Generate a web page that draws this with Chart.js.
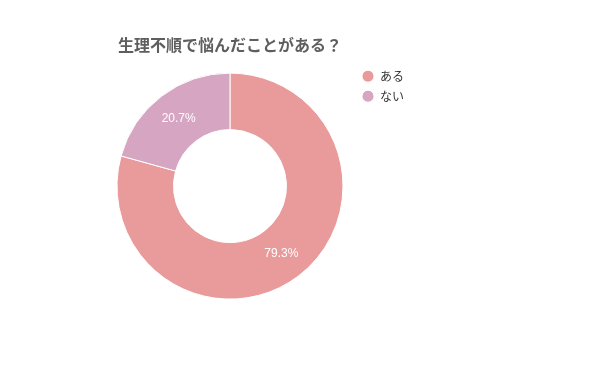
<!DOCTYPE html>
<html lang="ja">
<head>
<meta charset="utf-8">
<title>生理不順で悩んだことがある？</title>
<script src="https://cdn.jsdelivr.net/npm/chart.js@4.4.1/dist/chart.umd.min.js"></script>
<style>
  html, body { margin: 0; padding: 0; background: #fff; }
  .chart-box { position: relative; width: 600px; height: 371px; }
</style>
</head>
<body>
<div class="chart-box">
  <canvas id="cycleChart"></canvas>
</div>
<script>
Chart.defaults.font.family = "'Noto Sans CJK JP', 'Noto Sans', sans-serif";
Chart.defaults.font.size = 12;
Chart.defaults.color = "#333333";

const chartTitle = "生理不順で悩んだことがある？";
const answers = ["ある", "ない"];
const shares = [79.3, 20.7];
const sliceColors = ["#e99b9b", "#d6a5c2"];

// white percentage text in the middle of each ring segment
const sliceLabels = {
    id: "sliceLabels",
    afterDatasetsDraw(chart) {
        const ctx = chart.ctx;
        const meta = chart.getDatasetMeta(0);
        ctx.save();
        ctx.font = "12px 'Liberation Sans', Arial, sans-serif";
        ctx.fillStyle = "#ffffff";
        ctx.textAlign = "center";
        ctx.textBaseline = "middle";
        meta.data.forEach((arc, i) => {
            const pos = arc.tooltipPosition();
            ctx.fillText(shares[i] + "%", pos.x, pos.y);
        });
        ctx.restore();
    }
};

const ctx = document.getElementById("cycleChart").getContext("2d");
new Chart(ctx, {
    type: "doughnut",
    data: {
        labels: answers,
        datasets: [
            {
                data: shares,
                backgroundColor: sliceColors,
                borderColor: "#ffffff",
                borderWidth: 1,
                radius: 113,
                cutout: "50%",
            },
        ],
    },
    options: {
        responsive: true,
        maintainAspectRatio: false,
        animation: false,
        layout: {
            padding: { top: 23, left: 106, right: 186, bottom: 61 },
        },
        plugins: {
            title: {
                display: true,
                text: chartTitle,
                fullSize: false,
                align: "center",
                color: "#5e5e5e",
                font: { size: 16, weight: "bold" },
                padding: { top: 12, bottom: 8 },
            },
            legend: {
                position: "right",
                align: "start",
                fullSize: false,
                labels: {
                    usePointStyle: true,
                    pointStyle: "circle",
                    boxHeight: 8.5,
                    padding: 8,
                    color: "#333333",
                    font: { size: 12 },
                },
            },
            tooltip: { enabled: false },
        },
    },
    plugins: [sliceLabels],
});
</script>
</body>
</html>
